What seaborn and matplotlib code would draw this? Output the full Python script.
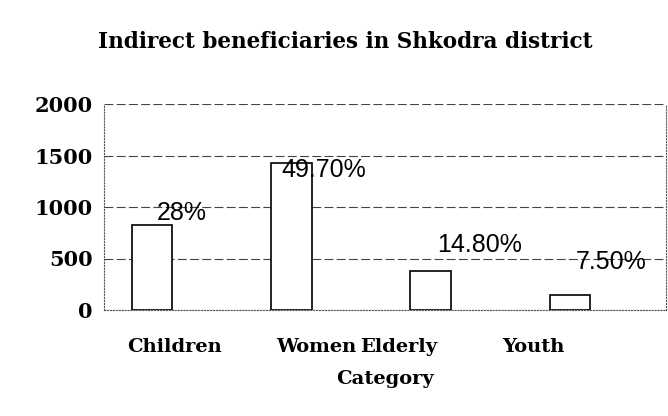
import matplotlib
matplotlib.use("Agg")
import matplotlib.pyplot as plt
import matplotlib.transforms as mtransforms
import seaborn as sns
import pandas as pd

categories = ["Children", "Women", "Elderly", "Youth"]
values = [830, 1430, 375, 145]
pct_labels = ["28%", "49.70%", "14.80%", "7.50%"]

# label placement (layout only)
label_dx = [0.21, 0.23, 0.355, 0.295]
label_y = [940, 1360, 630, 465]
tick_shift_px = [22, 25, -32, -37]

sns.set_theme(style="white")
plt.rcParams["font.family"] = ["DejaVu Serif"]

df = pd.DataFrame({"Category": categories, "Value": values})

fig = plt.figure(figsize=(6.68, 4.16), dpi=100)
ax = fig.add_axes([104/668, 1-310/416, (666-104)/668, 206/416])

sns.barplot(data=df, x="Category", y="Value", ax=ax, color="white",
            edgecolor="black", linewidth=1.2, width=0.29, zorder=3)

ax.set_ylim(0, 2000)
ax.set_xlim(-0.345, 3.69)
ax.set_yticks([0, 500, 1000, 1500, 2000])
ax.yaxis.grid(True, color="#444444", linestyle=(0, (8, 3)), linewidth=0.8, zorder=0)
ax.tick_params(axis="y", labelsize=15, length=0, pad=8, labelcolor="black")
ax.tick_params(axis="x", labelsize=14, length=0, pad=20, labelcolor="black")
for t in ax.get_yticklabels() + ax.get_xticklabels():
    t.set_fontweight("bold")
for t, sh in zip(ax.get_xticklabels(), tick_shift_px):
    t.set_transform(t.get_transform() + mtransforms.Affine2D().translate(sh, 0))

for s in ["left", "right", "bottom", "top"]:
    ax.spines[s].set_color("#555555")
    ax.spines[s].set_linestyle(":")
    ax.spines[s].set_linewidth(0.8)
ax.spines["top"].set_visible(False)

for i, (lab, dx, ly) in enumerate(zip(pct_labels, label_dx, label_y)):
    ax.text(i + dx, ly, lab, ha="center", va="center", fontsize=18,
            fontfamily="Liberation Sans", color="black", zorder=5)

ax.set_ylabel("")
ax.set_xlabel("Category", fontsize=14, fontweight="bold", labelpad=10, color="black")
fig.text(0.517, 0.898, "Indirect beneficiaries in Shkodra district",
         ha="center", va="center", fontsize=15.5, fontweight="bold", color="black")

fig.savefig("out.png", dpi=100)
